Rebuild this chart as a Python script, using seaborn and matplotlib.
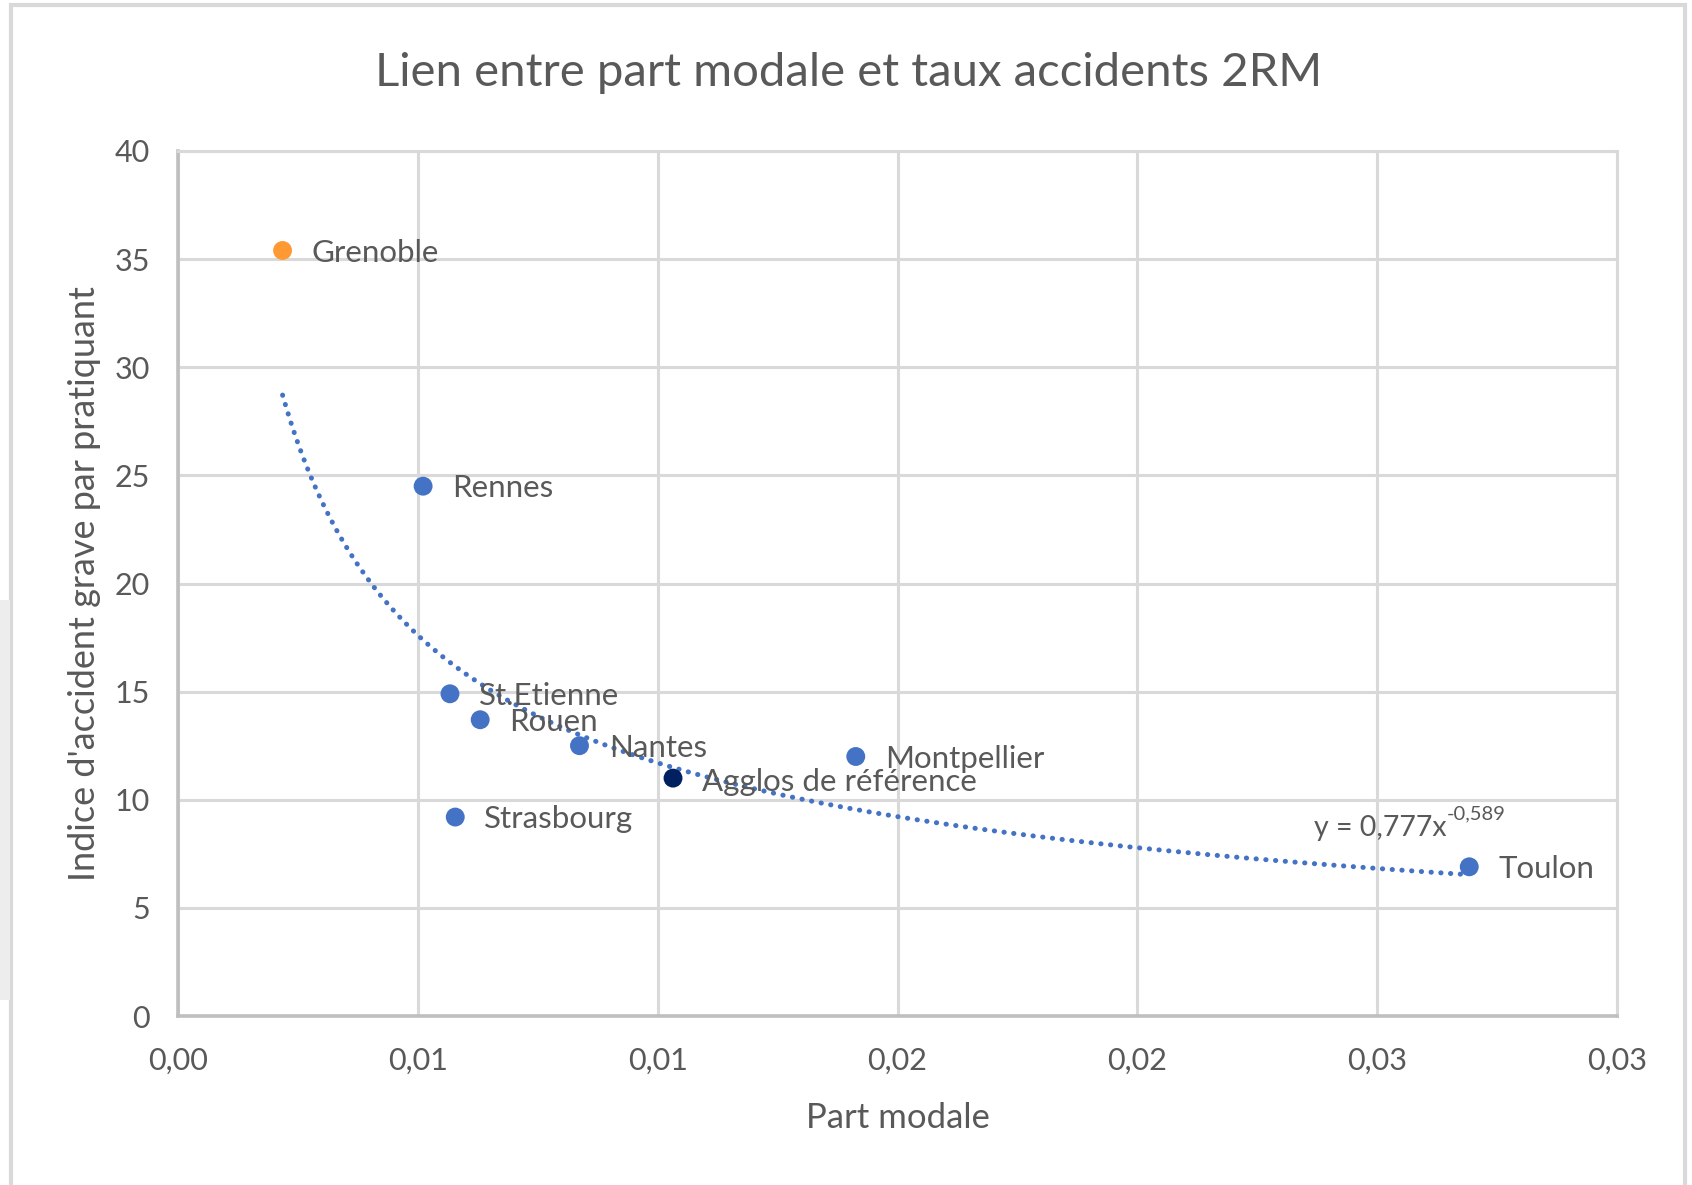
import numpy as np
import matplotlib
matplotlib.use("Agg")
import matplotlib.pyplot as plt
import pandas as pd
import seaborn as sns
from matplotlib.patches import Rectangle

villes = ["Grenoble", "Rennes", "St.Etienne", "Rouen", "Nantes",
          "Agglos de référence", "Montpellier", "Strasbourg", "Toulon"]
part_modale = [0.00218, 0.00511, 0.00567, 0.00630, 0.00837,
               0.01032, 0.01413, 0.00578, 0.02692]
indice = [35.4, 24.5, 14.9, 13.7, 12.5, 11.0, 12.0, 9.2, 6.9]
groupe = ["Grenoble", "ville", "ville", "ville", "ville",
          "reference", "ville", "ville", "ville"]

# tendance puissance affichée sur le graphique
coef_a = 0.777
coef_b = -0.589

x_ticks = [0, 0.005, 0.01, 0.015, 0.02, 0.025, 0.03]
x_labels = ["0,00", "0,01", "0,01", "0,02", "0,02", "0,03", "0,03"]
y_ticks = [0, 5, 10, 15, 20, 25, 30, 35, 40]

bleu = "#4472C4"
palette = {"ville": bleu, "Grenoble": "#FF9933", "reference": "#002060"}
gris_txt = "#595959"

sns.set_style("white")
plt.rcParams['font.family'] = ['Lato', 'DejaVu Sans']

df = pd.DataFrame({"ville": villes, "x": part_modale, "y": indice, "groupe": groupe})

fig = plt.figure(figsize=(16.92, 11.85), dpi=100)
fig.patches.append(Rectangle((11 / 1692, -0.01), (1685 - 11) / 1692, 1.0 - 5 / 1185 + 0.01,
                             transform=fig.transFigure, fill=False,
                             edgecolor="#D9D9D9", linewidth=3))
fig.patches.append(Rectangle((0, 1 - 1000 / 1185), 10 / 1692, 400 / 1185,
                             transform=fig.transFigure, facecolor="#EDEDED",
                             edgecolor="none"))
ax = fig.add_axes([178 / 1692, 1 - 1016 / 1185, (1617 - 178) / 1692, (1016 - 151) / 1185])

# courbe de tendance
xs = np.linspace(min(part_modale), max(part_modale), 300)
ax.plot(xs, coef_a * xs ** coef_b, color=bleu, linestyle=(0, (0.05, 1.9)),
        linewidth=3.6, dash_capstyle="round", zorder=2)

sns.scatterplot(data=df, x="x", y="y", hue="groupe", palette=palette, s=185,
                edgecolor="none", legend=False, ax=ax, zorder=3)

for _, r in df.iterrows():
    dy = -3 if r.ville == "Agglos de référence" else -1.5
    ax.annotate(r.ville, (r.x, r.y), xytext=(21, dy), textcoords="offset points",
                va="center", ha="left", fontsize=22.5, color=gris_txt, zorder=4)

eq = ax.text(0.02368, 8.7, "y = 0,777x", fontsize=20.5,
             color=gris_txt, va="center", ha="left")
ax.annotate("-0,589", xy=(1, 0.72), xycoords=eq, fontsize=14.5,
            color=gris_txt, va="bottom", ha="left")

ax.set_xlim(0, 0.03)
ax.set_ylim(0, 40)
ax.set_xticks(x_ticks)
ax.set_xticklabels(x_labels)
ax.set_yticks(y_ticks)
ax.tick_params(axis="both", labelsize=22, colors=gris_txt, length=0, pad=20)
ax.tick_params(axis="x", pad=22)
ax.grid(True, color="#D9D9D9", linewidth=2.2)
ax.set_axisbelow(True)
for s in ["top", "right"]:
    ax.spines[s].set_color("#D9D9D9")
    ax.spines[s].set_linewidth(2.2)
for s in ["left", "bottom"]:
    ax.spines[s].set_color("#BFBFBF")
    ax.spines[s].set_linewidth(2.6)

ax.set_xlabel("Part modale", fontsize=25, color=gris_txt, labelpad=20)
ax.set_ylabel("Indice d'accident grave par pratiquant", fontsize=26,
              color=gris_txt, labelpad=10)
fig.text(786 * 1.0791 / 1692, 1 - 68 * 1.0791 / 1185,
         "Lien entre part modale et taux accidents 2RM",
         fontsize=34, color=gris_txt, ha="center", va="center")

fig.savefig("out.png", dpi=100, facecolor="white")
